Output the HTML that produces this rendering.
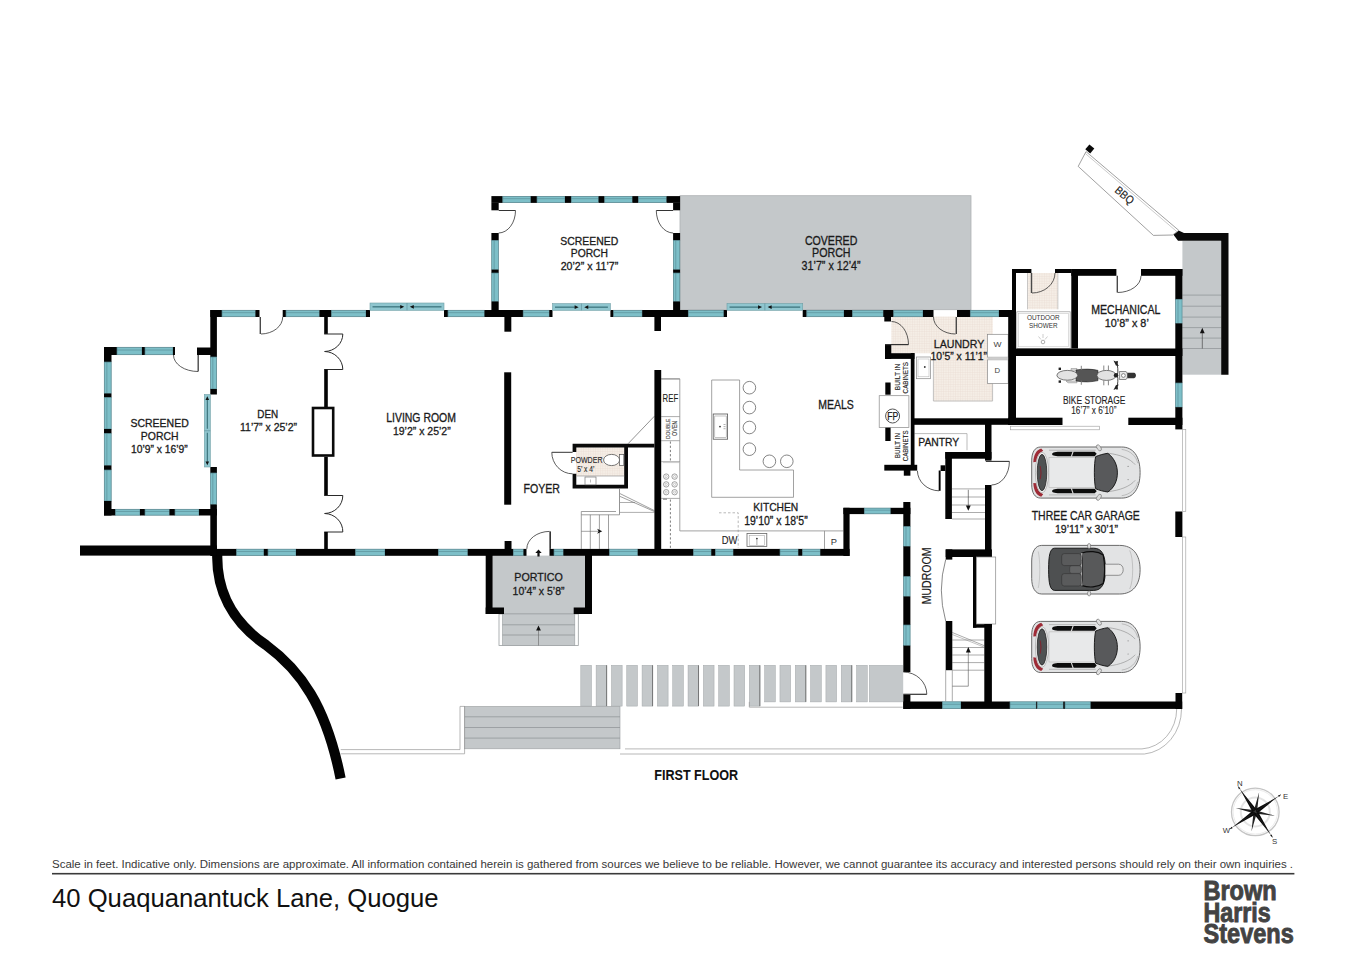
<!DOCTYPE html><html><head><meta charset="utf-8"><title>40 Quaquanantuck Lane, Quogue - First Floor</title>
<style>html,body{margin:0;padding:0;background:#fff;}body{width:1350px;height:954px;overflow:hidden;}svg{display:block;font-family:"Liberation Sans",sans-serif;}</style></head><body>
<svg width="1350" height="954" viewBox="0 0 1350 954">
<defs><pattern id="tile" width="2.4" height="2.4" patternUnits="userSpaceOnUse"><rect width="2.4" height="2.4" fill="#f5eee6"/><path d="M0,0.2 H2.4 M0.2,0 V2.4" stroke="#e9ded3" stroke-width="0.45"/></pattern></defs>
<rect width="1350" height="954" fill="#fff"/>
<rect x="680" y="195.7" width="291" height="114" fill="#c4c8ca" stroke="#aeb2b4" stroke-width="0.8"/>
<rect x="492.60" y="555.60" width="92.40" height="58.40" fill="#c4c8ca" />
<rect x="499.00" y="614.00" width="79.30" height="31.50" fill="#fff" stroke="#9a9ea0" stroke-width="0.8"/>
<rect x="502.50" y="614.00" width="72.30" height="31.50" fill="#c4c8ca" stroke="#9a9ea0" stroke-width="0.6"/>
<line x1="502.50" y1="624.80" x2="574.80" y2="624.80" stroke="#8d9193" stroke-width="0.7" />
<line x1="502.50" y1="635.00" x2="574.80" y2="635.00" stroke="#8d9193" stroke-width="0.7" />
<line x1="538.50" y1="630.00" x2="538.50" y2="645.50" stroke="#666" stroke-width="0.6" />
<path d="M538.5,625.6 l-2.4,5 h4.8z" fill="#111"/>
<rect x="1182.40" y="240.80" width="38.80" height="133.90" fill="#c4c8ca" />
<line x1="1182.40" y1="295.10" x2="1221.20" y2="295.10" stroke="#8d9193" stroke-width="0.7" />
<line x1="1182.40" y1="306.20" x2="1221.20" y2="306.20" stroke="#8d9193" stroke-width="0.7" />
<line x1="1182.40" y1="317.10" x2="1221.20" y2="317.10" stroke="#8d9193" stroke-width="0.7" />
<line x1="1182.40" y1="327.60" x2="1221.20" y2="327.60" stroke="#8d9193" stroke-width="0.7" />
<line x1="1182.40" y1="338.10" x2="1221.20" y2="338.10" stroke="#8d9193" stroke-width="0.7" />
<line x1="1182.40" y1="348.50" x2="1221.20" y2="348.50" stroke="#8d9193" stroke-width="0.7" />
<line x1="1202.30" y1="333.00" x2="1202.30" y2="348.50" stroke="#333" stroke-width="0.6" />
<path d="M1202.3,327.8 l-2.4,5.4 h4.8z" fill="#111"/>
<rect x="464.60" y="706.40" width="155.40" height="42.40" fill="#c4c8ca" stroke="#9a9ea0" stroke-width="0.6"/>
<line x1="464.60" y1="716.80" x2="620.00" y2="716.80" stroke="#8d9193" stroke-width="0.7" />
<line x1="464.60" y1="727.50" x2="620.00" y2="727.50" stroke="#8d9193" stroke-width="0.7" />
<line x1="464.60" y1="738.10" x2="620.00" y2="738.10" stroke="#8d9193" stroke-width="0.7" />
<rect x="580.80" y="665.30" width="10.70" height="40.80" fill="#c4c8ca" stroke="#a3a7a9" stroke-width="0.5"/>
<rect x="596.12" y="665.30" width="10.70" height="40.80" fill="#c4c8ca" stroke="#a3a7a9" stroke-width="0.5"/>
<line x1="606.62" y1="665.30" x2="606.62" y2="706.10" stroke="#555" stroke-width="0.7" />
<rect x="611.44" y="665.30" width="10.70" height="40.80" fill="#c4c8ca" stroke="#a3a7a9" stroke-width="0.5"/>
<rect x="626.76" y="665.30" width="10.70" height="40.80" fill="#c4c8ca" stroke="#a3a7a9" stroke-width="0.5"/>
<rect x="642.08" y="665.30" width="10.70" height="40.80" fill="#c4c8ca" stroke="#a3a7a9" stroke-width="0.5"/>
<line x1="652.58" y1="665.30" x2="652.58" y2="706.10" stroke="#555" stroke-width="0.7" />
<rect x="657.40" y="665.30" width="10.70" height="40.80" fill="#c4c8ca" stroke="#a3a7a9" stroke-width="0.5"/>
<rect x="672.72" y="665.30" width="10.70" height="40.80" fill="#c4c8ca" stroke="#a3a7a9" stroke-width="0.5"/>
<rect x="688.04" y="665.30" width="10.70" height="40.80" fill="#c4c8ca" stroke="#a3a7a9" stroke-width="0.5"/>
<line x1="698.54" y1="665.30" x2="698.54" y2="706.10" stroke="#555" stroke-width="0.7" />
<rect x="703.36" y="665.30" width="10.70" height="40.80" fill="#c4c8ca" stroke="#a3a7a9" stroke-width="0.5"/>
<rect x="718.68" y="665.30" width="10.70" height="40.80" fill="#c4c8ca" stroke="#a3a7a9" stroke-width="0.5"/>
<rect x="734.00" y="665.30" width="10.70" height="40.80" fill="#c4c8ca" stroke="#a3a7a9" stroke-width="0.5"/>
<rect x="749.32" y="665.30" width="10.70" height="40.80" fill="#c4c8ca" stroke="#a3a7a9" stroke-width="0.5"/>
<line x1="759.82" y1="665.30" x2="759.82" y2="706.10" stroke="#555" stroke-width="0.7" />
<rect x="764.64" y="665.30" width="10.70" height="36.60" fill="#c4c8ca" stroke="#a3a7a9" stroke-width="0.5"/>
<rect x="779.96" y="665.30" width="10.70" height="36.60" fill="#c4c8ca" stroke="#a3a7a9" stroke-width="0.5"/>
<rect x="795.28" y="665.30" width="10.70" height="36.60" fill="#c4c8ca" stroke="#a3a7a9" stroke-width="0.5"/>
<line x1="805.78" y1="665.30" x2="805.78" y2="701.90" stroke="#555" stroke-width="0.7" />
<rect x="810.60" y="665.30" width="10.70" height="36.60" fill="#c4c8ca" stroke="#a3a7a9" stroke-width="0.5"/>
<rect x="825.92" y="665.30" width="10.70" height="36.60" fill="#c4c8ca" stroke="#a3a7a9" stroke-width="0.5"/>
<rect x="841.24" y="665.30" width="10.70" height="36.60" fill="#c4c8ca" stroke="#a3a7a9" stroke-width="0.5"/>
<line x1="851.74" y1="665.30" x2="851.74" y2="701.90" stroke="#555" stroke-width="0.7" />
<rect x="856.56" y="665.30" width="10.70" height="36.60" fill="#c4c8ca" stroke="#a3a7a9" stroke-width="0.5"/>
<rect x="869.30" y="665.30" width="33.40" height="36.60" fill="#c4c8ca" stroke="#a3a7a9" stroke-width="0.5"/>
<rect x="890.00" y="665.50" width="13.20" height="35.80" fill="#c4c8ca" />
<path d="M340.7,749.6 H460 V706.4 H464.6" stroke="#9a9a9a" stroke-width="0.7" fill="none" />
<path d="M340.7,753.8 H464.6 V706.4" stroke="#9a9a9a" stroke-width="0.7" fill="none" />
<path d="M625,748.9 H1142 A37,40 0 0 0 1176.7,709" stroke="#9a9a9a" stroke-width="0.7" fill="none" />
<path d="M620,754 H1144.4 A41,45 0 0 0 1181.5,709" stroke="#9a9a9a" stroke-width="0.7" fill="none" />
<path d="M749.3,701.9 V707.2 H902.7" stroke="#9a9a9a" stroke-width="0.7" fill="none" />
<path d="M891.3,316.5 H992.8 V401.3 H933.4 V353.2 H891.3 Z" fill="url(#tile)"/>
<path d="M933.4,358.9 V401 H992.6 V383.4" stroke="#b5b5b5" stroke-width="0.8" fill="none" />
<rect x="1027.5" y="273" width="30.4" height="36.3" fill="url(#tile)"/>
<rect x="576" y="447.4" width="48.4" height="28.6" fill="url(#tile)"/>
<path d="M661.2,378.9 H679.8 V530.9 H843.4" stroke="#8a8a8a" stroke-width="0.8" fill="none" />
<line x1="661.20" y1="378.90" x2="679.80" y2="378.90" stroke="#8a8a8a" stroke-width="0.8" />
<line x1="661.20" y1="416.60" x2="679.80" y2="416.60" stroke="#8a8a8a" stroke-width="0.7" />
<line x1="661.20" y1="440.70" x2="679.80" y2="440.70" stroke="#8a8a8a" stroke-width="0.7" />
<line x1="661.20" y1="461.70" x2="679.80" y2="461.70" stroke="#8a8a8a" stroke-width="0.7" />
<line x1="661.20" y1="498.40" x2="679.80" y2="498.40" stroke="#8a8a8a" stroke-width="0.7" />
<line x1="670.40" y1="441.50" x2="670.40" y2="461.00" stroke="#444" stroke-width="0.7" stroke-dasharray="2.2,2"/>
<line x1="670.40" y1="499.50" x2="670.40" y2="548.00" stroke="#444" stroke-width="0.7" stroke-dasharray="2.2,2"/>
<line x1="663.00" y1="499.20" x2="667.00" y2="499.20" stroke="#444" stroke-width="0.7" />
<line x1="663.00" y1="462.60" x2="679.00" y2="462.60" stroke="#aaa" stroke-width="0.5" />
<circle cx="666.2" cy="476.6" r="2.7" fill="none" stroke="#777" stroke-width="0.7"/>
<circle cx="666.2" cy="476.6" r="1.1" fill="none" stroke="#999" stroke-width="0.5"/>
<circle cx="666.2" cy="484.4" r="2.7" fill="none" stroke="#777" stroke-width="0.7"/>
<circle cx="666.2" cy="484.4" r="1.1" fill="none" stroke="#999" stroke-width="0.5"/>
<circle cx="666.2" cy="492.2" r="2.7" fill="none" stroke="#777" stroke-width="0.7"/>
<circle cx="666.2" cy="492.2" r="1.1" fill="none" stroke="#999" stroke-width="0.5"/>
<circle cx="674.6" cy="476.6" r="2.7" fill="none" stroke="#777" stroke-width="0.7"/>
<circle cx="674.6" cy="476.6" r="1.1" fill="none" stroke="#999" stroke-width="0.5"/>
<circle cx="674.6" cy="484.4" r="2.7" fill="none" stroke="#777" stroke-width="0.7"/>
<circle cx="674.6" cy="484.4" r="1.1" fill="none" stroke="#999" stroke-width="0.5"/>
<circle cx="674.6" cy="492.2" r="2.7" fill="none" stroke="#777" stroke-width="0.7"/>
<circle cx="674.6" cy="492.2" r="1.1" fill="none" stroke="#999" stroke-width="0.5"/>
<path d="M711.7,380 H739.6 V470 H793.5 V497.3 H711.7 Z" stroke="#8a8a8a" stroke-width="0.8" fill="none" />
<rect x="713.20" y="414.00" width="14.40" height="25.20" fill="none" stroke="#555" stroke-width="0.8"/>
<rect x="714.80" y="416.00" width="11.40" height="21.40" fill="none" stroke="#888" stroke-width="0.5"/>
<circle cx="720" cy="426.6" r="0.9" fill="#333"/>
<path d="M723.5,424.5 h2 M723.5,426.6 h2 M723.5,428.7 h2" stroke="#666" stroke-width="0.5" fill="none" />
<circle cx="749.4" cy="387.7" r="6.3" fill="#fff" stroke="#666" stroke-width="0.8"/>
<circle cx="749.4" cy="407.6" r="6.3" fill="#fff" stroke="#666" stroke-width="0.8"/>
<circle cx="749.4" cy="427.5" r="6.3" fill="#fff" stroke="#666" stroke-width="0.8"/>
<circle cx="749.4" cy="449.2" r="6.3" fill="#fff" stroke="#666" stroke-width="0.8"/>
<circle cx="769.4" cy="461.3" r="6.3" fill="#fff" stroke="#666" stroke-width="0.8"/>
<circle cx="786.8" cy="461.3" r="6.3" fill="#fff" stroke="#666" stroke-width="0.8"/>
<path d="M719,512.8 H738.2 V548" stroke="#999" stroke-width="0.7" fill="none" stroke-dasharray="2.5,2"/>
<rect x="747.00" y="533.60" width="19.80" height="13.00" fill="none" stroke="#666" stroke-width="0.8"/>
<rect x="749.20" y="535.40" width="15.40" height="10.00" fill="none" stroke="#999" stroke-width="0.5"/>
<circle cx="756.9" cy="538.6" r="0.9" fill="#333"/>
<line x1="756.90" y1="539.50" x2="756.90" y2="545.00" stroke="#555" stroke-width="0.5" />
<line x1="824.50" y1="530.90" x2="824.50" y2="548.90" stroke="#8a8a8a" stroke-width="0.8" />
<path d="M572.6,443.8 H654.4 V447.4 H628 V488.4 H572.6 V473.8 H576.3 V484.8 H624.2 V447.4 H576.3 V452 H572.6 Z" fill="#0a0a0a"/>
<line x1="576.30" y1="476.00" x2="624.20" y2="476.00" stroke="#999" stroke-width="0.7" />
<line x1="551.80" y1="452.30" x2="572.60" y2="452.30" stroke="#333" stroke-width="1.0" />
<path d="M551.8,452.3 A20.8,21.5 0 0 0 572.6,473.8" stroke="#333" stroke-width="0.8" fill="none" />
<ellipse cx="611.6" cy="460" rx="8" ry="5.6" fill="#fff" stroke="#555" stroke-width="0.8"/>
<rect x="619.60" y="454.50" width="4.20" height="11.10" fill="#fff" stroke="#555" stroke-width="0.7"/>
<rect x="585.00" y="477.00" width="11.00" height="7.80" fill="#fff" stroke="#777" stroke-width="0.7"/>
<line x1="590.50" y1="479.50" x2="590.50" y2="482.50" stroke="#777" stroke-width="0.5" />
<line x1="628.00" y1="443.80" x2="654.40" y2="416.20" stroke="#777" stroke-width="0.8" />
<line x1="619.50" y1="488.40" x2="619.50" y2="514.80" stroke="#777" stroke-width="0.8" />
<line x1="581.30" y1="511.50" x2="616.00" y2="511.50" stroke="#777" stroke-width="0.7" />
<line x1="581.30" y1="514.80" x2="619.50" y2="514.80" stroke="#777" stroke-width="0.7" />
<line x1="581.30" y1="511.50" x2="581.30" y2="548.90" stroke="#777" stroke-width="0.7" />
<line x1="590.30" y1="514.80" x2="590.30" y2="548.90" stroke="#777" stroke-width="0.7" />
<line x1="599.40" y1="514.80" x2="599.40" y2="548.90" stroke="#777" stroke-width="0.7" />
<line x1="608.50" y1="514.80" x2="608.50" y2="548.90" stroke="#777" stroke-width="0.7" />
<line x1="620.00" y1="493.60" x2="654.40" y2="510.60" stroke="#777" stroke-width="0.7" />
<line x1="620.00" y1="496.40" x2="654.40" y2="511.50" stroke="#777" stroke-width="0.7" />
<line x1="620.00" y1="502.50" x2="635.00" y2="502.50" stroke="#777" stroke-width="0.6" />
<line x1="620.00" y1="512.40" x2="654.40" y2="512.40" stroke="#777" stroke-width="0.6" />
<line x1="581.30" y1="531.30" x2="598.00" y2="531.30" stroke="#666" stroke-width="0.6" />
<path d="M602.2,531.3 l-5,-2.5 l1.3,2.5 l-1.3,2.5z" fill="#111"/>
<rect x="987.50" y="334.30" width="20.70" height="22.90" fill="#fff" stroke="#888" stroke-width="0.7"/>
<rect x="987.50" y="359.80" width="20.70" height="23.60" fill="#fff" stroke="#888" stroke-width="0.7"/>
<rect x="987.50" y="357.20" width="20.70" height="2.60" fill="#ccc" />
<rect x="916.40" y="357.00" width="14.20" height="21.70" fill="#fff" stroke="#888" stroke-width="0.7"/>
<rect x="918.00" y="359.00" width="11.00" height="17.80" fill="none" stroke="#aaa" stroke-width="0.5"/>
<circle cx="924.8" cy="367" r="0.9" fill="#333"/>
<rect x="879.20" y="395.70" width="29.70" height="31.70" fill="#fff" stroke="#888" stroke-width="0.7"/>
<circle cx="892.6" cy="416" r="7" fill="#fff" stroke="#555" stroke-width="1"/>
<path d="M914.5,433.6 H967 V450.2" stroke="#aaa" stroke-width="0.8" fill="none" />
<line x1="951.90" y1="488.90" x2="985.00" y2="488.90" stroke="#888" stroke-width="0.7" />
<line x1="951.90" y1="497.00" x2="985.00" y2="497.00" stroke="#888" stroke-width="0.7" />
<line x1="951.90" y1="505.00" x2="985.00" y2="505.00" stroke="#888" stroke-width="0.7" />
<line x1="951.90" y1="512.50" x2="985.00" y2="512.50" stroke="#888" stroke-width="0.7" />
<line x1="951.90" y1="519.00" x2="985.00" y2="519.00" stroke="#888" stroke-width="0.7" />
<line x1="968.30" y1="489.80" x2="968.30" y2="506.00" stroke="#333" stroke-width="0.6" />
<path d="M968.3,510.8 l-2.4,-5.2 h4.8z" fill="#111"/>
<line x1="952.30" y1="640.00" x2="984.30" y2="640.00" stroke="#888" stroke-width="0.7" />
<line x1="952.30" y1="647.50" x2="984.30" y2="647.50" stroke="#888" stroke-width="0.7" />
<line x1="952.30" y1="655.00" x2="984.30" y2="655.00" stroke="#888" stroke-width="0.7" />
<line x1="952.30" y1="662.60" x2="984.30" y2="662.60" stroke="#888" stroke-width="0.7" />
<line x1="952.30" y1="670.20" x2="984.30" y2="670.20" stroke="#888" stroke-width="0.7" />
<line x1="952.30" y1="632.50" x2="984.30" y2="645.70" stroke="#888" stroke-width="0.7" />
<line x1="952.30" y1="634.50" x2="984.30" y2="647.20" stroke="#888" stroke-width="0.5" />
<line x1="945.70" y1="670.20" x2="945.70" y2="701.30" stroke="#888" stroke-width="0.7" />
<line x1="952.30" y1="670.20" x2="952.30" y2="701.30" stroke="#888" stroke-width="0.7" />
<path d="M952.3,686.2 H968.3 V652" stroke="#555" stroke-width="0.6" fill="none" />
<path d="M968.3,647 l-2.4,5.4 h4.8z" fill="#111"/>
<rect x="1016.80" y="311.80" width="53.40" height="36.70" fill="none" stroke="#999" stroke-width="0.7"/>
<rect x="1018.40" y="313.40" width="50.20" height="33.40" fill="none" stroke="#bbb" stroke-width="0.5"/>
<line x1="1027.50" y1="273.00" x2="1027.50" y2="309.30" stroke="#aaa" stroke-width="0.6" />
<line x1="1057.90" y1="273.00" x2="1057.90" y2="309.30" stroke="#aaa" stroke-width="0.6" />
<circle cx="1043" cy="342" r="1.8" fill="none" stroke="#777" stroke-width="0.6"/>
<path d="M1043,334 v4 M1038.5,336.5 l2.5,3 M1047.5,336.5 l-2.5,3" stroke="#999" stroke-width="0.5" fill="none" />
<path d="M217.3,553 C216,590 232,622 266,645 C300,670 326,705 340.6,778.5" stroke="#030303" stroke-width="10.2" fill="none" />
<g id="walls">
<rect x="104.00" y="347.00" width="13.00" height="8.00" fill="#030303" />
<rect x="117.00" y="347.30" width="25.00" height="7.40" fill="#7dbfc8" stroke="#4f7f88" stroke-width="0.7"/>
<line x1="117.00" y1="350.04" x2="142.00" y2="350.04" stroke="#4f7f88" stroke-width="0.5"/>
<rect x="142.00" y="347.00" width="3.00" height="8.00" fill="#030303" />
<rect x="145.00" y="347.30" width="28.00" height="7.40" fill="#7dbfc8" stroke="#4f7f88" stroke-width="0.7"/>
<line x1="145.00" y1="350.04" x2="173.00" y2="350.04" stroke="#4f7f88" stroke-width="0.5"/>
<rect x="173.00" y="347.00" width="2.00" height="8.00" fill="#030303" />
<rect x="197.00" y="347.50" width="14.00" height="7.50" fill="#030303" />
<line x1="198.20" y1="355.00" x2="198.20" y2="371.50" stroke="#4a4a4a" stroke-width="1.4" />
<path d="M173.5,355 A24.5,16.5 0 0 0 198,371.5" stroke="#333" stroke-width="0.8" fill="none" />
<rect x="104.00" y="347.00" width="7.50" height="15.00" fill="#030303" />
<rect x="104.30" y="362.00" width="6.90" height="31.50" fill="#7dbfc8" stroke="#4f7f88" stroke-width="0.7"/>
<line x1="106.85" y1="362.00" x2="106.85" y2="393.50" stroke="#4f7f88" stroke-width="0.5"/>
<rect x="104.00" y="393.50" width="7.50" height="4.00" fill="#030303" />
<rect x="104.30" y="397.50" width="6.90" height="31.50" fill="#7dbfc8" stroke="#4f7f88" stroke-width="0.7"/>
<line x1="106.85" y1="397.50" x2="106.85" y2="429.00" stroke="#4f7f88" stroke-width="0.5"/>
<rect x="104.00" y="429.00" width="7.50" height="4.50" fill="#030303" />
<rect x="104.30" y="433.50" width="6.90" height="32.00" fill="#7dbfc8" stroke="#4f7f88" stroke-width="0.7"/>
<line x1="106.85" y1="433.50" x2="106.85" y2="465.50" stroke="#4f7f88" stroke-width="0.5"/>
<rect x="104.00" y="465.50" width="7.50" height="4.50" fill="#030303" />
<rect x="104.30" y="470.00" width="6.90" height="31.00" fill="#7dbfc8" stroke="#4f7f88" stroke-width="0.7"/>
<line x1="106.85" y1="470.00" x2="106.85" y2="501.00" stroke="#4f7f88" stroke-width="0.5"/>
<rect x="104.00" y="501.00" width="7.50" height="14.50" fill="#030303" />
<rect x="104.00" y="509.00" width="11.50" height="6.50" fill="#030303" />
<rect x="115.50" y="509.30" width="24.50" height="5.90" fill="#7dbfc8" stroke="#4f7f88" stroke-width="0.7"/>
<line x1="115.50" y1="511.47" x2="140.00" y2="511.47" stroke="#4f7f88" stroke-width="0.5"/>
<rect x="140.00" y="509.00" width="5.00" height="6.50" fill="#030303" />
<rect x="145.00" y="509.30" width="24.50" height="5.90" fill="#7dbfc8" stroke="#4f7f88" stroke-width="0.7"/>
<line x1="145.00" y1="511.47" x2="169.50" y2="511.47" stroke="#4f7f88" stroke-width="0.5"/>
<rect x="169.50" y="509.00" width="5.50" height="6.50" fill="#030303" />
<rect x="175.00" y="509.30" width="24.00" height="5.90" fill="#7dbfc8" stroke="#4f7f88" stroke-width="0.7"/>
<line x1="175.00" y1="511.47" x2="199.00" y2="511.47" stroke="#4f7f88" stroke-width="0.5"/>
<rect x="199.00" y="509.00" width="18.00" height="6.50" fill="#030303" />
<rect x="210.30" y="310.00" width="6.60" height="47.00" fill="#030303" />
<rect x="210.60" y="357.00" width="6.00" height="32.00" fill="#7dbfc8" stroke="#4f7f88" stroke-width="0.7"/>
<line x1="212.81" y1="357.00" x2="212.81" y2="389.00" stroke="#4f7f88" stroke-width="0.5"/>
<rect x="210.30" y="389.00" width="6.60" height="5.50" fill="#030303" />
<rect x="210.30" y="467.00" width="6.60" height="6.00" fill="#030303" />
<rect x="210.60" y="473.00" width="6.00" height="31.50" fill="#7dbfc8" stroke="#4f7f88" stroke-width="0.7"/>
<line x1="212.81" y1="473.00" x2="212.81" y2="504.50" stroke="#4f7f88" stroke-width="0.5"/>
<rect x="210.30" y="504.50" width="6.60" height="51.50" fill="#030303" />
<rect x="204.30" y="394.50" width="6.00" height="72.50" fill="#8fc6cf" stroke="#6f9ea6" stroke-width="0.6"/>
<line x1="204.30" y1="430.75" x2="210.30" y2="430.75" stroke="#4f7f88" stroke-width="0.5"/>
<line x1="207.30" y1="398.50" x2="207.30" y2="428.75" stroke="#2f6770" stroke-width="1.0"/>
<line x1="207.30" y1="432.75" x2="207.30" y2="463.00" stroke="#2f6770" stroke-width="1.0"/>
<path d="M207.30,396.30 l-1.8,3.6 h3.6z M207.30,465.20 l-1.8,-3.6 h3.6z" fill="#111"/>
<rect x="210.30" y="310.00" width="11.70" height="7.00" fill="#030303" />
<rect x="222.00" y="310.30" width="33.50" height="6.40" fill="#7dbfc8" stroke="#4f7f88" stroke-width="0.7"/>
<line x1="222.00" y1="312.66" x2="255.50" y2="312.66" stroke="#4f7f88" stroke-width="0.5"/>
<rect x="255.50" y="310.00" width="4.00" height="7.00" fill="#030303" />
<rect x="282.70" y="310.00" width="3.30" height="7.00" fill="#030303" />
<rect x="286.00" y="310.30" width="33.50" height="6.40" fill="#7dbfc8" stroke="#4f7f88" stroke-width="0.7"/>
<line x1="286.00" y1="312.66" x2="319.50" y2="312.66" stroke="#4f7f88" stroke-width="0.5"/>
<rect x="319.50" y="310.00" width="12.00" height="7.00" fill="#030303" />
<rect x="331.50" y="310.30" width="34.50" height="6.40" fill="#7dbfc8" stroke="#4f7f88" stroke-width="0.7"/>
<line x1="331.50" y1="312.66" x2="366.00" y2="312.66" stroke="#4f7f88" stroke-width="0.5"/>
<rect x="366.00" y="310.00" width="4.00" height="7.00" fill="#030303" />
<rect x="444.00" y="310.00" width="4.00" height="7.00" fill="#030303" />
<rect x="448.00" y="310.30" width="36.50" height="6.40" fill="#7dbfc8" stroke="#4f7f88" stroke-width="0.7"/>
<line x1="448.00" y1="312.66" x2="484.50" y2="312.66" stroke="#4f7f88" stroke-width="0.5"/>
<rect x="484.50" y="310.00" width="38.70" height="7.00" fill="#030303" />
<rect x="523.20" y="310.30" width="26.10" height="6.40" fill="#7dbfc8" stroke="#4f7f88" stroke-width="0.7"/>
<line x1="523.20" y1="312.66" x2="549.30" y2="312.66" stroke="#4f7f88" stroke-width="0.5"/>
<rect x="549.30" y="310.00" width="3.20" height="7.00" fill="#030303" />
<rect x="610.40" y="310.00" width="3.20" height="7.00" fill="#030303" />
<rect x="613.60" y="310.30" width="28.60" height="6.40" fill="#7dbfc8" stroke="#4f7f88" stroke-width="0.7"/>
<line x1="613.60" y1="312.66" x2="642.20" y2="312.66" stroke="#4f7f88" stroke-width="0.5"/>
<rect x="642.20" y="310.00" width="46.10" height="7.00" fill="#030303" />
<rect x="688.30" y="310.30" width="35.50" height="6.40" fill="#7dbfc8" stroke="#4f7f88" stroke-width="0.7"/>
<line x1="688.30" y1="312.66" x2="723.80" y2="312.66" stroke="#4f7f88" stroke-width="0.5"/>
<rect x="723.80" y="310.00" width="3.20" height="7.00" fill="#030303" />
<rect x="802.70" y="310.00" width="4.10" height="7.00" fill="#030303" />
<rect x="806.80" y="310.30" width="37.20" height="6.40" fill="#7dbfc8" stroke="#4f7f88" stroke-width="0.7"/>
<line x1="806.80" y1="312.66" x2="844.00" y2="312.66" stroke="#4f7f88" stroke-width="0.5"/>
<rect x="844.00" y="310.00" width="8.50" height="7.00" fill="#030303" />
<rect x="852.50" y="310.30" width="30.80" height="6.40" fill="#7dbfc8" stroke="#4f7f88" stroke-width="0.7"/>
<line x1="852.50" y1="312.66" x2="883.30" y2="312.66" stroke="#4f7f88" stroke-width="0.5"/>
<rect x="883.30" y="310.00" width="10.40" height="7.00" fill="#030303" />
<rect x="893.70" y="310.30" width="29.30" height="6.40" fill="#7dbfc8" stroke="#4f7f88" stroke-width="0.7"/>
<line x1="893.70" y1="312.66" x2="923.00" y2="312.66" stroke="#4f7f88" stroke-width="0.5"/>
<rect x="923.00" y="310.00" width="10.50" height="7.00" fill="#030303" />
<rect x="957.00" y="310.00" width="13.30" height="7.00" fill="#030303" />
<rect x="970.30" y="310.30" width="28.70" height="6.40" fill="#7dbfc8" stroke="#4f7f88" stroke-width="0.7"/>
<line x1="970.30" y1="312.66" x2="999.00" y2="312.66" stroke="#4f7f88" stroke-width="0.5"/>
<rect x="999.00" y="310.00" width="17.00" height="7.00" fill="#030303" />
<rect x="370.00" y="303.00" width="74.00" height="7.30" fill="#8fc6cf" stroke="#6f9ea6" stroke-width="0.6"/>
<line x1="407.00" y1="303.00" x2="407.00" y2="310.30" stroke="#4f7f88" stroke-width="0.5"/>
<line x1="372.50" y1="306.85" x2="402.00" y2="306.85" stroke="#2f6770" stroke-width="1.1"/>
<line x1="412.00" y1="306.85" x2="441.50" y2="306.85" stroke="#2f6770" stroke-width="1.1"/>
<path d="M404.20,306.85 l-4,-1.9 v3.8z M409.80,306.85 l4,-1.9 v3.8z" fill="#111"/>
<rect x="552.50" y="303.60" width="57.90" height="6.70" fill="#8fc6cf" stroke="#6f9ea6" stroke-width="0.6"/>
<line x1="581.45" y1="303.60" x2="581.45" y2="310.30" stroke="#4f7f88" stroke-width="0.5"/>
<line x1="555.00" y1="307.15" x2="576.45" y2="307.15" stroke="#2f6770" stroke-width="1.1"/>
<line x1="586.45" y1="307.15" x2="607.90" y2="307.15" stroke="#2f6770" stroke-width="1.1"/>
<path d="M578.65,307.15 l-4,-1.9 v3.8z M584.25,307.15 l4,-1.9 v3.8z" fill="#111"/>
<rect x="727.00" y="303.50" width="75.70" height="6.80" fill="#8fc6cf" stroke="#6f9ea6" stroke-width="0.6"/>
<line x1="764.85" y1="303.50" x2="764.85" y2="310.30" stroke="#4f7f88" stroke-width="0.5"/>
<line x1="729.50" y1="307.10" x2="759.85" y2="307.10" stroke="#2f6770" stroke-width="1.1"/>
<line x1="769.85" y1="307.10" x2="800.20" y2="307.10" stroke="#2f6770" stroke-width="1.1"/>
<path d="M762.05,307.10 l-4,-1.9 v3.8z M767.65,307.10 l4,-1.9 v3.8z" fill="#111"/>
<rect x="504.40" y="317.00" width="6.90" height="14.70" fill="#030303" />
<rect x="654.40" y="317.00" width="6.60" height="14.00" fill="#030303" />
<rect x="884.30" y="317.00" width="6.70" height="4.50" fill="#030303" />
<line x1="260.30" y1="317.00" x2="260.30" y2="334.00" stroke="#4a4a4a" stroke-width="1.4" />
<path d="M261,334 A22,17 0 0 0 282.7,317" stroke="#333" stroke-width="0.8" fill="none" />
<line x1="956.30" y1="317.00" x2="956.30" y2="334.00" stroke="#4a4a4a" stroke-width="1.4" />
<path d="M933.5,317 A22,17 0 0 0 955.5,334" stroke="#333" stroke-width="0.8" fill="none" />
<rect x="491.40" y="196.10" width="11.40" height="6.80" fill="#030303" />
<rect x="502.80" y="196.40" width="28.00" height="6.20" fill="#7dbfc8" stroke="#4f7f88" stroke-width="0.7"/>
<line x1="502.80" y1="198.68" x2="530.80" y2="198.68" stroke="#4f7f88" stroke-width="0.5"/>
<rect x="530.80" y="196.10" width="6.20" height="6.80" fill="#030303" />
<rect x="537.00" y="196.40" width="28.00" height="6.20" fill="#7dbfc8" stroke="#4f7f88" stroke-width="0.7"/>
<line x1="537.00" y1="198.68" x2="565.00" y2="198.68" stroke="#4f7f88" stroke-width="0.5"/>
<rect x="565.00" y="196.10" width="6.30" height="6.80" fill="#030303" />
<rect x="571.30" y="196.40" width="27.30" height="6.20" fill="#7dbfc8" stroke="#4f7f88" stroke-width="0.7"/>
<line x1="571.30" y1="198.68" x2="598.60" y2="198.68" stroke="#4f7f88" stroke-width="0.5"/>
<rect x="598.60" y="196.10" width="6.10" height="6.80" fill="#030303" />
<rect x="604.70" y="196.40" width="27.70" height="6.20" fill="#7dbfc8" stroke="#4f7f88" stroke-width="0.7"/>
<line x1="604.70" y1="198.68" x2="632.40" y2="198.68" stroke="#4f7f88" stroke-width="0.5"/>
<rect x="632.40" y="196.10" width="6.00" height="6.80" fill="#030303" />
<rect x="638.40" y="196.40" width="28.20" height="6.20" fill="#7dbfc8" stroke="#4f7f88" stroke-width="0.7"/>
<line x1="638.40" y1="198.68" x2="666.60" y2="198.68" stroke="#4f7f88" stroke-width="0.5"/>
<rect x="666.60" y="196.10" width="13.50" height="6.80" fill="#030303" />
<rect x="491.40" y="202.90" width="7.30" height="7.40" fill="#030303" />
<rect x="491.40" y="233.00" width="7.30" height="7.40" fill="#030303" />
<rect x="491.70" y="240.40" width="6.70" height="29.30" fill="#7dbfc8" stroke="#4f7f88" stroke-width="0.7"/>
<line x1="494.17" y1="240.40" x2="494.17" y2="269.70" stroke="#4f7f88" stroke-width="0.5"/>
<rect x="491.40" y="269.70" width="7.30" height="3.30" fill="#030303" />
<rect x="491.70" y="273.00" width="6.70" height="28.50" fill="#7dbfc8" stroke="#4f7f88" stroke-width="0.7"/>
<line x1="494.17" y1="273.00" x2="494.17" y2="301.50" stroke="#4f7f88" stroke-width="0.5"/>
<rect x="491.40" y="301.50" width="7.30" height="9.00" fill="#030303" />
<rect x="673.10" y="202.90" width="7.00" height="7.40" fill="#030303" />
<rect x="673.10" y="233.00" width="7.00" height="7.40" fill="#030303" />
<rect x="673.40" y="240.40" width="6.40" height="29.30" fill="#7dbfc8" stroke="#4f7f88" stroke-width="0.7"/>
<line x1="675.76" y1="240.40" x2="675.76" y2="269.70" stroke="#4f7f88" stroke-width="0.5"/>
<rect x="673.10" y="269.70" width="7.00" height="3.30" fill="#030303" />
<rect x="673.40" y="273.00" width="6.40" height="28.50" fill="#7dbfc8" stroke="#4f7f88" stroke-width="0.7"/>
<line x1="675.76" y1="273.00" x2="675.76" y2="301.50" stroke="#4f7f88" stroke-width="0.5"/>
<rect x="673.10" y="301.50" width="7.00" height="9.00" fill="#030303" />
<line x1="498.70" y1="210.50" x2="515.50" y2="210.50" stroke="#333" stroke-width="1.0" />
<path d="M515.5,210.5 A17,22.5 0 0 1 498.7,233" stroke="#333" stroke-width="0.8" fill="none" />
<line x1="673.10" y1="210.50" x2="656.30" y2="210.50" stroke="#333" stroke-width="1.0" />
<path d="M656.3,210.5 A17,22.5 0 0 0 673.1,233" stroke="#333" stroke-width="0.8" fill="none" />
<rect x="324.20" y="317.00" width="3.60" height="17.00" fill="#030303" />
<path d="M324.2,334 H342.8 A18.6,17.4 0 0 1 324.6,351.5 A18.6,18 0 0 1 342.8,369.5 H324.2" stroke="#2a2a2a" stroke-width="1.0" fill="none" />
<rect x="324.20" y="369.50" width="3.60" height="37.50" fill="#030303" />
<rect x="313" y="408" width="20.2" height="47.5" fill="#fff" stroke="#0a0a0a" stroke-width="2.6"/>
<rect x="324.20" y="456.80" width="3.60" height="38.70" fill="#030303" />
<path d="M324.2,495.5 H342.8 A18.6,18 0 0 1 324.6,513.5 A18.6,18 0 0 1 342.8,532 H324.2" stroke="#2a2a2a" stroke-width="1.0" fill="none" />
<rect x="324.20" y="532.00" width="3.60" height="17.00" fill="#030303" />
<rect x="504.20" y="372.30" width="7.00" height="132.40" fill="#030303" />
<rect x="504.60" y="541.00" width="6.90" height="8.00" fill="#030303" />
<rect x="80.00" y="545.50" width="137.00" height="10.10" fill="#030303" />
<rect x="216.90" y="548.90" width="19.70" height="6.90" fill="#030303" />
<rect x="236.60" y="549.20" width="27.30" height="6.30" fill="#7dbfc8" stroke="#4f7f88" stroke-width="0.7"/>
<line x1="236.60" y1="551.52" x2="263.90" y2="551.52" stroke="#4f7f88" stroke-width="0.5"/>
<rect x="263.90" y="548.90" width="4.10" height="6.90" fill="#030303" />
<rect x="268.00" y="549.20" width="28.00" height="6.30" fill="#7dbfc8" stroke="#4f7f88" stroke-width="0.7"/>
<line x1="268.00" y1="551.52" x2="296.00" y2="551.52" stroke="#4f7f88" stroke-width="0.5"/>
<rect x="296.00" y="548.90" width="59.60" height="6.90" fill="#030303" />
<rect x="355.60" y="549.20" width="29.40" height="6.30" fill="#7dbfc8" stroke="#4f7f88" stroke-width="0.7"/>
<line x1="355.60" y1="551.52" x2="385.00" y2="551.52" stroke="#4f7f88" stroke-width="0.5"/>
<rect x="385.00" y="548.90" width="53.40" height="6.90" fill="#030303" />
<rect x="438.40" y="549.20" width="29.40" height="6.30" fill="#7dbfc8" stroke="#4f7f88" stroke-width="0.7"/>
<line x1="438.40" y1="551.52" x2="467.80" y2="551.52" stroke="#4f7f88" stroke-width="0.5"/>
<rect x="467.80" y="548.90" width="45.50" height="6.90" fill="#030303" />
<rect x="513.30" y="549.20" width="10.20" height="6.30" fill="#7dbfc8" stroke="#4f7f88" stroke-width="0.7"/>
<line x1="513.30" y1="551.52" x2="523.50" y2="551.52" stroke="#4f7f88" stroke-width="0.5"/>
<rect x="523.50" y="548.90" width="3.00" height="6.90" fill="#030303" />
<rect x="549.50" y="548.90" width="4.50" height="6.90" fill="#030303" />
<rect x="554.00" y="549.20" width="9.40" height="6.30" fill="#7dbfc8" stroke="#4f7f88" stroke-width="0.7"/>
<line x1="554.00" y1="551.52" x2="563.40" y2="551.52" stroke="#4f7f88" stroke-width="0.5"/>
<rect x="563.40" y="548.90" width="46.10" height="6.90" fill="#030303" />
<rect x="609.50" y="549.20" width="28.30" height="6.30" fill="#7dbfc8" stroke="#4f7f88" stroke-width="0.7"/>
<line x1="609.50" y1="551.52" x2="637.80" y2="551.52" stroke="#4f7f88" stroke-width="0.5"/>
<rect x="637.80" y="548.90" width="55.70" height="6.90" fill="#030303" />
<rect x="693.50" y="549.20" width="17.80" height="6.30" fill="#7dbfc8" stroke="#4f7f88" stroke-width="0.7"/>
<line x1="693.50" y1="551.52" x2="711.30" y2="551.52" stroke="#4f7f88" stroke-width="0.5"/>
<rect x="711.30" y="548.90" width="4.20" height="6.90" fill="#030303" />
<rect x="715.50" y="549.20" width="17.80" height="6.30" fill="#7dbfc8" stroke="#4f7f88" stroke-width="0.7"/>
<line x1="715.50" y1="551.52" x2="733.30" y2="551.52" stroke="#4f7f88" stroke-width="0.5"/>
<rect x="733.30" y="548.90" width="46.70" height="6.90" fill="#030303" />
<rect x="780.00" y="549.20" width="18.30" height="6.30" fill="#7dbfc8" stroke="#4f7f88" stroke-width="0.7"/>
<line x1="780.00" y1="551.52" x2="798.30" y2="551.52" stroke="#4f7f88" stroke-width="0.5"/>
<rect x="798.30" y="548.90" width="4.20" height="6.90" fill="#030303" />
<rect x="802.50" y="549.20" width="17.80" height="6.30" fill="#7dbfc8" stroke="#4f7f88" stroke-width="0.7"/>
<line x1="802.50" y1="551.52" x2="820.30" y2="551.52" stroke="#4f7f88" stroke-width="0.5"/>
<rect x="820.30" y="548.90" width="29.30" height="6.90" fill="#030303" />
<rect x="549.50" y="531.40" width="1.30" height="17.50" fill="#030303" />
<path d="M526.8,548.9 A23,17.5 0 0 1 549.5,531.4" stroke="#333" stroke-width="0.8" fill="none" />
<path d="M538.5,549.4 l-3.2,3.6 h2.1 v3.6 h2.2 v-3.6 h2.1z" fill="#111"/>
<rect x="485.70" y="555.00" width="6.90" height="59.00" fill="#030303" />
<rect x="585.00" y="555.00" width="7.00" height="59.00" fill="#030303" />
<rect x="485.70" y="607.50" width="18.30" height="6.50" fill="#030303" />
<rect x="573.70" y="607.50" width="18.30" height="6.50" fill="#030303" />
<rect x="654.40" y="370.00" width="6.80" height="179.00" fill="#030303" />
<rect x="843.40" y="507.80" width="6.20" height="48.20" fill="#030303" />
<rect x="843.40" y="507.80" width="20.90" height="6.30" fill="#030303" />
<rect x="864.30" y="508.10" width="26.40" height="5.70" fill="#7dbfc8" stroke="#4f7f88" stroke-width="0.7"/>
<line x1="864.30" y1="510.19" x2="890.70" y2="510.19" stroke="#4f7f88" stroke-width="0.5"/>
<rect x="890.70" y="507.80" width="19.70" height="6.30" fill="#030303" />
<rect x="903.30" y="502.00" width="7.10" height="24.60" fill="#030303" />
<rect x="903.60" y="526.60" width="6.50" height="19.80" fill="#7dbfc8" stroke="#4f7f88" stroke-width="0.7"/>
<line x1="906.00" y1="526.60" x2="906.00" y2="546.40" stroke="#4f7f88" stroke-width="0.5"/>
<rect x="903.30" y="546.40" width="7.10" height="30.20" fill="#030303" />
<rect x="903.60" y="576.60" width="6.50" height="19.90" fill="#7dbfc8" stroke="#4f7f88" stroke-width="0.7"/>
<line x1="906.00" y1="576.60" x2="906.00" y2="596.50" stroke="#4f7f88" stroke-width="0.5"/>
<rect x="903.30" y="596.50" width="7.10" height="28.50" fill="#030303" />
<rect x="903.60" y="625.00" width="6.50" height="20.70" fill="#7dbfc8" stroke="#4f7f88" stroke-width="0.7"/>
<line x1="906.00" y1="625.00" x2="906.00" y2="645.70" stroke="#4f7f88" stroke-width="0.5"/>
<rect x="903.30" y="645.70" width="7.10" height="26.30" fill="#030303" />
<rect x="903.30" y="694.70" width="7.10" height="14.30" fill="#030303" />
<line x1="903.30" y1="694.30" x2="926.80" y2="694.30" stroke="#333" stroke-width="1.2" />
<path d="M926.8,694.3 A23.5,22.3 0 0 0 903.3,672" stroke="#333" stroke-width="0.8" fill="none" />
<rect x="903.30" y="701.50" width="39.20" height="7.40" fill="#030303" />
<rect x="942.50" y="701.80" width="18.50" height="6.80" fill="#7dbfc8" stroke="#4f7f88" stroke-width="0.7"/>
<line x1="942.50" y1="704.31" x2="961.00" y2="704.31" stroke="#4f7f88" stroke-width="0.5"/>
<rect x="961.00" y="701.50" width="49.00" height="7.40" fill="#030303" />
<rect x="1010.00" y="701.80" width="26.20" height="6.80" fill="#7dbfc8" stroke="#4f7f88" stroke-width="0.7"/>
<line x1="1010.00" y1="704.31" x2="1036.20" y2="704.31" stroke="#4f7f88" stroke-width="0.5"/>
<rect x="1036.20" y="701.50" width="1.10" height="7.40" fill="#030303" />
<rect x="1037.30" y="701.80" width="26.00" height="6.80" fill="#7dbfc8" stroke="#4f7f88" stroke-width="0.7"/>
<line x1="1037.30" y1="704.31" x2="1063.30" y2="704.31" stroke="#4f7f88" stroke-width="0.5"/>
<rect x="1063.30" y="701.50" width="1.70" height="7.40" fill="#030303" />
<rect x="1065.00" y="701.80" width="25.70" height="6.80" fill="#7dbfc8" stroke="#4f7f88" stroke-width="0.7"/>
<line x1="1065.00" y1="704.31" x2="1090.70" y2="704.31" stroke="#4f7f88" stroke-width="0.5"/>
<rect x="1090.70" y="701.50" width="91.50" height="7.40" fill="#030303" />
<rect x="1175.50" y="693.00" width="6.70" height="16.00" fill="#030303" />
<rect x="885.00" y="344.60" width="6.30" height="14.40" fill="#030303" />
<line x1="885.00" y1="344.60" x2="908.50" y2="344.60" stroke="#333" stroke-width="1.2" />
<path d="M908.5,344.6 A17,23 0 0 0 891.5,321.5" stroke="#333" stroke-width="0.8" fill="none" />
<rect x="885.00" y="353.20" width="29.50" height="5.70" fill="#030303" />
<rect x="910.80" y="353.00" width="3.70" height="114.50" fill="#030303" />
<rect x="885.30" y="382.50" width="5.30" height="12.20" fill="#030303" />
<rect x="885.30" y="427.70" width="5.30" height="13.30" fill="#030303" />
<rect x="884.30" y="464.80" width="32.90" height="5.80" fill="#030303" />
<rect x="903.80" y="470.00" width="6.60" height="5.70" fill="#030303" />
<rect x="940.60" y="465.30" width="4.70" height="5.70" fill="#030303" />
<rect x="938.70" y="470.50" width="1.90" height="20.30" fill="#030303" />
<path d="M917.4,470.8 A22,20.5 0 0 0 939,490.8" stroke="#333" stroke-width="0.8" fill="none" />
<rect x="913.60" y="418.30" width="102.40" height="6.50" fill="#030303" />
<rect x="945.30" y="452.00" width="46.20" height="6.70" fill="#030303" />
<rect x="945.30" y="452.00" width="6.60" height="67.00" fill="#030303" />
<rect x="985.00" y="424.00" width="6.50" height="36.60" fill="#030303" />
<rect x="985.00" y="485.00" width="6.50" height="72.00" fill="#030303" />
<line x1="985.80" y1="461.40" x2="1009.40" y2="461.40" stroke="#333" stroke-width="1.1" />
<path d="M1009.4,461.4 A18,23.5 0 0 1 991.5,485" stroke="#333" stroke-width="0.8" fill="none" />
<rect x="945.70" y="549.40" width="46.20" height="7.60" fill="#030303" />
<rect x="945.70" y="549.40" width="6.60" height="10.20" fill="#030303" />
<path d="M945.7,559.6 Q937,590 945.7,621" stroke="#555" stroke-width="0.7" fill="none" />
<rect x="945.70" y="621.00" width="6.60" height="49.20" fill="#030303" />
<rect x="973.00" y="557.00" width="3.40" height="70.70" fill="#030303" />
<rect x="973.00" y="624.00" width="18.90" height="3.70" fill="#030303" />
<rect x="976.40" y="557.00" width="19.30" height="67.00" fill="#fff" stroke="#888" stroke-width="0.7"/>
<rect x="984.30" y="624.00" width="7.60" height="78.30" fill="#030303" />
<rect x="1008.20" y="310.00" width="7.80" height="114.80" fill="#030303" />
<rect x="1012.00" y="269.00" width="4.00" height="43.00" fill="#030303" />
<rect x="1012.00" y="269.00" width="19.40" height="4.00" fill="#030303" />
<rect x="1055.00" y="269.00" width="16.30" height="4.00" fill="#030303" />
<rect x="1071.30" y="269.00" width="45.10" height="6.80" fill="#030303" />
<rect x="1141.00" y="269.00" width="41.40" height="6.80" fill="#030303" />
<rect x="1071.30" y="269.00" width="6.70" height="79.50" fill="#030303" />
<rect x="1012.00" y="348.50" width="170.40" height="7.50" fill="#030303" />
<rect x="1008.40" y="417.70" width="54.10" height="7.30" fill="#030303" />
<rect x="1128.30" y="417.70" width="54.10" height="7.30" fill="#030303" />
<rect x="1175.30" y="269.00" width="7.10" height="30.30" fill="#030303" />
<rect x="1175.60" y="299.30" width="6.50" height="24.10" fill="#7dbfc8" stroke="#4f7f88" stroke-width="0.7"/>
<line x1="1178.00" y1="299.30" x2="1178.00" y2="323.40" stroke="#4f7f88" stroke-width="0.5"/>
<rect x="1175.30" y="323.40" width="7.10" height="59.60" fill="#030303" />
<rect x="1175.60" y="383.00" width="6.50" height="24.20" fill="#7dbfc8" stroke="#4f7f88" stroke-width="0.7"/>
<line x1="1178.00" y1="383.00" x2="1178.00" y2="407.20" stroke="#4f7f88" stroke-width="0.5"/>
<rect x="1175.30" y="407.20" width="7.10" height="22.20" fill="#030303" />
<rect x="1175.30" y="511.50" width="7.10" height="25.50" fill="#030303" />
<rect x="1182.30" y="429.40" width="3.50" height="82.10" fill="#fff" stroke="#999" stroke-width="0.6"/>
<rect x="1182.30" y="537.00" width="3.50" height="156.00" fill="#fff" stroke="#999" stroke-width="0.6"/>
<rect x="1010.50" y="426.20" width="89.10" height="3.60" fill="#fff" stroke="#999" stroke-width="0.6"/>
<line x1="1031.50" y1="273.00" x2="1031.50" y2="293.00" stroke="#4a4a4a" stroke-width="1.4" />
<path d="M1032,293 A23,20 0 0 0 1055,273" stroke="#333" stroke-width="0.8" fill="none" />
<line x1="1117.30" y1="275.80" x2="1117.30" y2="292.50" stroke="#4a4a4a" stroke-width="1.4" />
<path d="M1117.6,292.5 A23.4,16.7 0 0 0 1141,275.8" stroke="#333" stroke-width="0.8" fill="none" />
<path d="M1173.5,234.8 L1178.6,230.4 L1184,233 H1228.5 V374.7 H1221.2 V240.8 H1182.6 L1178,240.8 Z" fill="#0a0a0a"/>
<g fill="#fff" stroke="#777" stroke-width="0.7">
<path d="M1086,151.6 L1178.8,230.4 L1172.6,235 L1153.4,235.4 L1078.2,166.4 Z"/>
<path d="M1085.2,153.4 L1176.8,231.6" fill="none" stroke="#999" stroke-width="0.5"/>
</g>
<rect x="-3.2" y="-3.2" width="6.4" height="6.4" fill="#0a0a0a" transform="translate(1089.8,148.9) rotate(40)"/>
</g>
<g fill="#1a1a1a" stroke="#1a1a1a" stroke-width="0.3">
<text x="130.50" y="427.10" font-size="11.05" textLength="58.20" lengthAdjust="spacingAndGlyphs" fill="#1a1a1a" >SCREENED</text>
<text x="140.80" y="439.60" font-size="11.34" textLength="37.70" lengthAdjust="spacingAndGlyphs" fill="#1a1a1a" >PORCH</text>
<text x="131.00" y="452.90" font-size="10.90" textLength="56.80" lengthAdjust="spacingAndGlyphs" fill="#1a1a1a" >10’9” x 16’9”</text>
<text x="257.30" y="417.80" font-size="11.34" textLength="20.90" lengthAdjust="spacingAndGlyphs" fill="#1a1a1a" >DEN</text>
<text x="240.00" y="430.50" font-size="11.48" textLength="57.00" lengthAdjust="spacingAndGlyphs" fill="#1a1a1a" >11’7” x 25’2”</text>
<text x="386.20" y="421.80" font-size="12.21" textLength="69.80" lengthAdjust="spacingAndGlyphs" fill="#1a1a1a" >LIVING ROOM</text>
<text x="392.90" y="434.50" font-size="11.19" textLength="57.80" lengthAdjust="spacingAndGlyphs" fill="#1a1a1a" >19’2” x 25’2”</text>
<text x="560.20" y="244.50" font-size="11.19" textLength="58.00" lengthAdjust="spacingAndGlyphs" fill="#1a1a1a" >SCREENED</text>
<text x="570.80" y="257.00" font-size="11.05" textLength="37.20" lengthAdjust="spacingAndGlyphs" fill="#1a1a1a" >PORCH</text>
<text x="560.70" y="270.00" font-size="11.05" textLength="57.50" lengthAdjust="spacingAndGlyphs" fill="#1a1a1a" >20’2” x 11’7”</text>
<text x="804.90" y="245.00" font-size="12.06" textLength="52.40" lengthAdjust="spacingAndGlyphs" fill="#1a1a1a" >COVERED</text>
<text x="812.00" y="257.30" font-size="12.06" textLength="38.60" lengthAdjust="spacingAndGlyphs" fill="#1a1a1a" >PORCH</text>
<text x="801.60" y="270.30" font-size="13.52" textLength="59.00" lengthAdjust="spacingAndGlyphs" fill="#1a1a1a" >31’7” x 12’4”</text>
<text x="523.50" y="493.40" font-size="12.35" textLength="36.50" lengthAdjust="spacingAndGlyphs" fill="#1a1a1a" >FOYER</text>
<text x="570.70" y="463.00" font-size="8.72" textLength="31.80" lengthAdjust="spacingAndGlyphs" fill="#2a2a2a" stroke-width="0.12">POWDER</text>
<text x="577.20" y="471.50" font-size="8.43" textLength="17.30" lengthAdjust="spacingAndGlyphs" fill="#2a2a2a" stroke-width="0.12">5’ x 4’</text>
<text x="514.30" y="581.00" font-size="11.63" textLength="48.40" lengthAdjust="spacingAndGlyphs" fill="#1a1a1a" >PORTICO</text>
<text x="512.60" y="594.80" font-size="11.63" textLength="51.90" lengthAdjust="spacingAndGlyphs" fill="#1a1a1a" >10’4” x 5’8”</text>
<text x="753.20" y="511.40" font-size="11.34" textLength="45.10" lengthAdjust="spacingAndGlyphs" fill="#1a1a1a" >KITCHEN</text>
<text x="744.20" y="524.60" font-size="12.21" textLength="63.50" lengthAdjust="spacingAndGlyphs" fill="#1a1a1a" >19’10” x 18’5”</text>
<text x="818.20" y="409.30" font-size="12.21" textLength="35.60" lengthAdjust="spacingAndGlyphs" fill="#1a1a1a" >MEALS</text>
<text x="933.80" y="347.50" font-size="11.77" textLength="50.50" lengthAdjust="spacingAndGlyphs" fill="#1a1a1a" >LAUNDRY</text>
<text x="930.60" y="360.40" font-size="10.47" textLength="56.40" lengthAdjust="spacingAndGlyphs" fill="#1a1a1a" >10’5” x 11’1”</text>
<text x="918.30" y="445.70" font-size="11.19" textLength="40.90" lengthAdjust="spacingAndGlyphs" fill="#1a1a1a" >PANTRY</text>
<text x="1027.00" y="320.30" font-size="7.70" textLength="32.70" lengthAdjust="spacingAndGlyphs" fill="#333" stroke-width="0">OUTDOOR</text>
<text x="1029.00" y="327.90" font-size="7.70" textLength="28.50" lengthAdjust="spacingAndGlyphs" fill="#333" stroke-width="0">SHOWER</text>
<text x="1091.20" y="314.00" font-size="12.21" textLength="69.20" lengthAdjust="spacingAndGlyphs" fill="#1a1a1a" >MECHANICAL</text>
<text x="1104.80" y="327.20" font-size="11.63" textLength="44.00" lengthAdjust="spacingAndGlyphs" fill="#1a1a1a" >10’8” x 8’</text>
<text x="1062.90" y="403.50" font-size="10.47" textLength="62.50" lengthAdjust="spacingAndGlyphs" fill="#262626" stroke-width="0.12">BIKE STORAGE</text>
<text x="1071.30" y="413.50" font-size="10.61" textLength="45.10" lengthAdjust="spacingAndGlyphs" fill="#262626" stroke-width="0.12">16’7” x 6’10”</text>
<text x="1031.70" y="520.00" font-size="13.08" textLength="108.10" lengthAdjust="spacingAndGlyphs" fill="#1a1a1a" >THREE CAR GARAGE</text>
<text x="1054.90" y="532.80" font-size="11.77" textLength="63.20" lengthAdjust="spacingAndGlyphs" fill="#1a1a1a" >19’11” x 30’1”</text>
<text x="662.60" y="402.40" font-size="10.03" textLength="15.60" lengthAdjust="spacingAndGlyphs" fill="#222" stroke-width="0.1">REF</text>
<text x="721.80" y="544.00" font-size="10.17" textLength="15.70" lengthAdjust="spacingAndGlyphs" fill="#222" stroke-width="0.1">DW</text>
<text x="830.80" y="544.50" font-size="9.45" textLength="6.20" lengthAdjust="spacingAndGlyphs" fill="#333" stroke-width="0">P</text>
<text x="993.60" y="346.60" font-size="7.41" textLength="8.00" lengthAdjust="spacingAndGlyphs" fill="#444" stroke-width="0">W</text>
<text x="994.40" y="373.30" font-size="7.99" textLength="5.60" lengthAdjust="spacingAndGlyphs" fill="#444" stroke-width="0">D</text>
<text x="887.20" y="419.60" font-size="10.47" textLength="11.00" lengthAdjust="spacingAndGlyphs" fill="#222" stroke-width="0.25">FP</text>
<text x="654.20" y="780.40" font-size="14.83" font-weight="bold" textLength="84.00" lengthAdjust="spacingAndGlyphs" fill="#111" stroke-width="0.05">FIRST FLOOR</text>
</g>
<text x="0" y="0" font-size="12.50" text-anchor="middle" textLength="56.70" lengthAdjust="spacingAndGlyphs" fill="#1a1a1a" stroke="#1a1a1a" stroke-width="0.15" transform="translate(926.30,575.90) rotate(-90)" dy="4.30">MUDROOM</text>
<text x="0" y="0" font-size="11.34" text-anchor="middle" textLength="21.00" lengthAdjust="spacingAndGlyphs" fill="#1a1a1a" stroke="#1a1a1a" stroke-width="0.15" transform="translate(1124.60,195.20) rotate(40)" dy="3.90">BBQ</text>
<text x="0" y="0" font-size="6.10" text-anchor="middle" textLength="20.40" lengthAdjust="spacingAndGlyphs" fill="#555" stroke="#555" stroke-width="0.15" transform="translate(667.60,428.80) rotate(-90)" dy="2.10">DOUBLE</text>
<text x="0" y="0" font-size="6.98" text-anchor="middle" textLength="15.20" lengthAdjust="spacingAndGlyphs" fill="#444" stroke="#444" stroke-width="0.15" transform="translate(674.20,428.40) rotate(-90)" dy="2.40">OVEN</text>
<text x="0" y="0" font-size="7.56" text-anchor="middle" textLength="26.50" lengthAdjust="spacingAndGlyphs" fill="#222" stroke="#222" stroke-width="0.15" transform="translate(897.20,377.00) rotate(-90)" dy="2.60">BUILT IN</text>
<text x="0" y="0" font-size="7.56" text-anchor="middle" textLength="31.40" lengthAdjust="spacingAndGlyphs" fill="#222" stroke="#222" stroke-width="0.15" transform="translate(904.90,377.70) rotate(-90)" dy="2.60">CABINETS</text>
<text x="0" y="0" font-size="7.56" text-anchor="middle" textLength="25.20" lengthAdjust="spacingAndGlyphs" fill="#222" stroke="#222" stroke-width="0.15" transform="translate(897.20,445.60) rotate(-90)" dy="2.60">BUILT IN</text>
<text x="0" y="0" font-size="7.56" text-anchor="middle" textLength="30.80" lengthAdjust="spacingAndGlyphs" fill="#222" stroke="#222" stroke-width="0.15" transform="translate(904.90,445.90) rotate(-90)" dy="2.60">CABINETS</text>
<defs>
<g id="coupe">
<path d="M9,0.8 H90 C101.5,0.8 108.4,10 108.4,26.3 C108.4,42.6 101.5,51.9 90,51.9 H9 C3,51.9 0,46.5 0,38 V14.7 C0,6.2 3,0.8 9,0.8 Z" fill="#e2e3e4" stroke="#5a5a5a" stroke-width="0.9"/>
<path d="M90,3.2 C99,4.5 104.5,10 106,17 M90,49.5 C99,48.2 104.5,42.6 106,35.6" fill="none" stroke="#a0a0a0" stroke-width="0.6"/>
<path d="M76.9,7.1 C88,8.5 98,12 103.5,18.5 M76.9,45.4 C88,44 98,40.6 103.5,34.1" fill="none" stroke="#8a8a8a" stroke-width="0.6"/>
<path d="M9.5,2.2 C4.5,3.8 2,8.5 1.6,16 L4.6,15.6 C5.2,10.2 7,6.8 11.5,4.6 Z" fill="#9e2b36"/>
<path d="M9.5,50.5 C4.5,48.9 2,44.2 1.6,36.7 L4.6,37.1 C5.2,42.5 7,45.9 11.5,48.1 Z" fill="#9e2b36"/>
<ellipse cx="10.3" cy="26.35" rx="6.6" ry="20.4" fill="#f2f2f2" stroke="#9a9a9a" stroke-width="0.6"/>
<ellipse cx="10.3" cy="26.35" rx="4.8" ry="18.2" fill="#4f5253" stroke="#1a1a1a" stroke-width="0.7"/>
<path d="M8.5,20 C9.5,24 9.5,29 8.5,33" stroke="#7a2a33" stroke-width="1.2" fill="none"/>
<rect x="17.3" y="11.3" width="47.1" height="30.1" fill="#e8e9ea" stroke="#b0b0b0" stroke-width="0.5"/>
<path d="M17.3,4 H64 M17.3,48.7 H64" stroke="#9a9a9a" stroke-width="0.6"/>
<path d="M20.4,7.8 C20.4,5.9 24,5.5 30,5.5 H63 L65,7.6 L63,10.1 H30 C24,10.1 20.4,9.7 20.4,7.8 Z" fill="#0d0d0d"/>
<path d="M20.4,44.8 C20.4,46.7 24,47.1 30,47.1 H63 L65,45 L63,42.5 H30 C24,42.5 20.4,42.9 20.4,44.8 Z" fill="#0d0d0d"/>
<path d="M41.5,5 L39.6,10.6 M41.5,47.6 L39.6,42" stroke="#d8d8d8" stroke-width="1.1"/>
<path d="M64,10.4 C68,8.8 72,7.6 76.2,7.1 C82.6,12 85.7,19 85.7,26.7 C85.7,34.4 82.6,41.5 76.2,45.8 C72,45.3 68,44.2 64,42.6 C62.2,36 62.2,17 64,10.4 Z" fill="#58595b" stroke="#111" stroke-width="0.9"/>
<ellipse cx="67.2" cy="1.6" rx="1.9" ry="3.4" transform="rotate(-35 67.2 1.6)" fill="#ddd" stroke="#555" stroke-width="0.5"/>
<ellipse cx="67.2" cy="51.1" rx="1.9" ry="3.4" transform="rotate(35 67.2 51.1)" fill="#ddd" stroke="#555" stroke-width="0.5"/>
<circle cx="96.4" cy="20.2" r="0.6" fill="#888"/><circle cx="96.4" cy="33.4" r="0.6" fill="#888"/>
</g>
<g id="conv">
<path d="M10,0 H88 C101,0 108.4,9 108.4,24.3 C108.4,39.6 101,48.6 88,48.6 H10 C3.5,48.6 0,42 0,33 V15.6 C0,6.6 3.5,0 10,0 Z" fill="#e2e3e4" stroke="#5a5a5a" stroke-width="0.9"/>
<path d="M6.5,6 C8.6,14 8.6,34.6 6.5,42.6" fill="none" stroke="#aaa" stroke-width="0.5"/>
<path d="M98,5 C102,13 102,35.6 98,43.6" fill="none" stroke="#aaa" stroke-width="0.6"/>
<path d="M23,2.8 H62 C70,2.8 73.7,9 73.7,23.9 C73.7,38.8 70,45 62,45 H23 C18.4,45 16.9,38 16.9,23.9 C16.9,9.8 18.4,2.8 23,2.8 Z" fill="#4e5051" stroke="#0d0d0d" stroke-width="0.9"/>
<path d="M50.2,7.6 C57,5.4 66,5.6 71.5,9.6 C73.2,18 73.2,30 71.5,38.2 C66,42.2 57,42.4 50.2,40.2 Z" fill="#58595a" stroke="#0d0d0d" stroke-width="1.2"/>
<path d="M50.2,7.6 C49.2,17 49.2,31 50.2,40.2" fill="none" stroke="#e0e0e0" stroke-width="1"/>
<rect x="30" y="8.2" width="19.6" height="12" rx="2.6" fill="#5a5b5c" stroke="#2a2a2a" stroke-width="0.5"/>
<rect x="30" y="28.2" width="19.6" height="12.4" rx="2.6" fill="#5a5b5c" stroke="#2a2a2a" stroke-width="0.5"/>
<rect x="38" y="20.4" width="11.6" height="7.6" rx="2" fill="#646566" stroke="#2a2a2a" stroke-width="0.4"/>
<path d="M73.7,18.8 H87 C93,18.8 93,29.9 87,29.9 H73.7" fill="#e8e8e8" stroke="#6a6a6a" stroke-width="0.7"/>
<ellipse cx="57.4" cy="0.6" rx="1.6" ry="2.6" fill="#ddd" stroke="#555" stroke-width="0.5"/>
<ellipse cx="57.4" cy="48" rx="1.6" ry="2.6" fill="#ddd" stroke="#555" stroke-width="0.5"/>
</g>
</defs>
<use href="#coupe" x="1031.7" y="446.2"/>
<use href="#conv" x="1031.7" y="545.4"/>
<use href="#coupe" x="1031.7" y="620.6"/>
<g transform="translate(1050,355)">
<rect x="8.6" y="12.6" width="2.4" height="2.4" fill="#222"/><rect x="8.6" y="25.4" width="2.4" height="2.4" fill="#222"/>
<path d="M21,13.5 H27 V15.3 H21 Z M16,26 H27 V27.8 H18 Z" fill="#ddd" stroke="#666" stroke-width="0.4"/>
<path d="M26,15.1 C34,13.5 42,14 48,15.4 V25.6 C42,27 34,27.5 26,25.9 Z" fill="#555" stroke="#222" stroke-width="0.6"/>
<ellipse cx="17.3" cy="20.3" rx="10.4" ry="4.9" fill="#e2e2e2" stroke="#444" stroke-width="0.7"/>
<ellipse cx="56.5" cy="20.4" rx="9.6" ry="5" fill="#e2e2e2" stroke="#444" stroke-width="0.7"/>
<path d="M31.3,10.8 V15 M31.3,25.6 V29.8 M53.8,10.5 V15.4 M58.4,10.5 V15.4 M53.8,25.4 V30.3 M58.4,25.4 V30.3" stroke="#777" stroke-width="0.9"/>
<path d="M66.6,6 C67.6,12 68.6,16 67.2,20.3 C68.6,24.6 67.6,28.6 66.6,34.6" fill="none" stroke="#333" stroke-width="0.9"/>
<path d="M63.5,5.6 l3,1.2 l1.6,-1 l-0.6,3.2 l1.4,2 l-3,-0.6 z M63.5,35 l3,-1.2 l1.6,1 l-0.6,-3.2 l1.4,-2 l-3,0.6 z" fill="#222"/>
<circle cx="66" cy="20.3" r="2.2" fill="#222"/>
<path d="M69.4,16.5 H76 C78,17.5 78,23.5 76,24.5 H69.4 Z" fill="#e6e6e6" stroke="#444" stroke-width="0.6"/>
<circle cx="73.4" cy="20.5" r="1.9" fill="#fff" stroke="#444" stroke-width="0.6"/>
<path d="M77.4,17.8 H84 C86.6,18.3 86.6,22.7 84,23.2 H77.4 Z" fill="#333"/>
</g>
<g transform="translate(1255.3,811.9)">
<circle r="23.8" fill="none" stroke="#c4c4c4" stroke-width="1.3"/>
<circle r="22.2" fill="none" stroke="#e6e6e6" stroke-width="0.8"/>
<circle r="14.5" fill="none" stroke="#e4e4e4" stroke-width="2"/>
<g transform="rotate(11)" fill="#222">
<path d="M0,-20 L1.6,-1.6 L-1.6,-1.6 Z M0,20 L1.6,1.6 L-1.6,1.6 Z M20,0 L1.6,1.6 L1.6,-1.6 Z M-20,0 L-1.6,1.6 L-1.6,-1.6 Z"/>
</g>
<g transform="rotate(-34)" fill="#0a0a0a">
<path d="M0,-27 L2.3,-2.3 L0,0 Z M0,-27 L-2.3,-2.3 L0,0 Z"/>
<path d="M0,27 L2.3,2.3 L0,0 Z M0,27 L-2.3,2.3 L0,0 Z"/>
<path d="M27,0 L2.3,2.3 L0,0 Z M27,0 L2.3,-2.3 L0,0 Z"/>
<path d="M-27,0 L-2.3,2.3 L0,0 Z M-27,0 L-2.3,-2.3 L0,0 Z"/>
<path d="M0,-31 L-0.9,-28 L0.9,-28 Z M0,31 L-0.9,28 L0.9,28 Z M31,0 L28,-0.9 L28,0.9 Z M-31,0 L-28,-0.9 L-28,0.9 Z"/>
<path d="M0,-31 V31 M-31,0 H31" stroke="#333" stroke-width="0.35"/>
</g>
</g>
<g font-size="7.8" fill="#333">
<text x="1236.9" y="786.3">N</text><text x="1283" y="798.5">E</text><text x="1272.1" y="844.2">S</text><text x="1222.8" y="832.9">W</text>
</g>
<text x="52" y="867.6" font-size="10" fill="#383838" textLength="1241" lengthAdjust="spacingAndGlyphs">Scale in feet. Indicative only. Dimensions are approximate. All information contained herein is gathered from sources we believe to be reliable. However, we cannot guarantee its accuracy and interested persons should rely on their own  inquiries .</text>
<rect x="52" y="872.9" width="1242.4" height="1.6" fill="#3a3a3a"/>
<text x="52" y="907.3" font-size="25.1" fill="#111" textLength="386.6" lengthAdjust="spacingAndGlyphs">40 Quaquanantuck Lane, Quogue</text>
<g font-weight="bold" fill="#434343" stroke="#434343" stroke-width="0.9" font-size="26.8">
<text x="1203.4" y="900.2" textLength="73.4" lengthAdjust="spacingAndGlyphs">Brown</text>
<text x="1203.4" y="921.6" textLength="67.4" lengthAdjust="spacingAndGlyphs">Harris</text>
<text x="1203.6" y="943.2" textLength="90.2" lengthAdjust="spacingAndGlyphs">Stevens</text>
</g>
</svg></body></html>
